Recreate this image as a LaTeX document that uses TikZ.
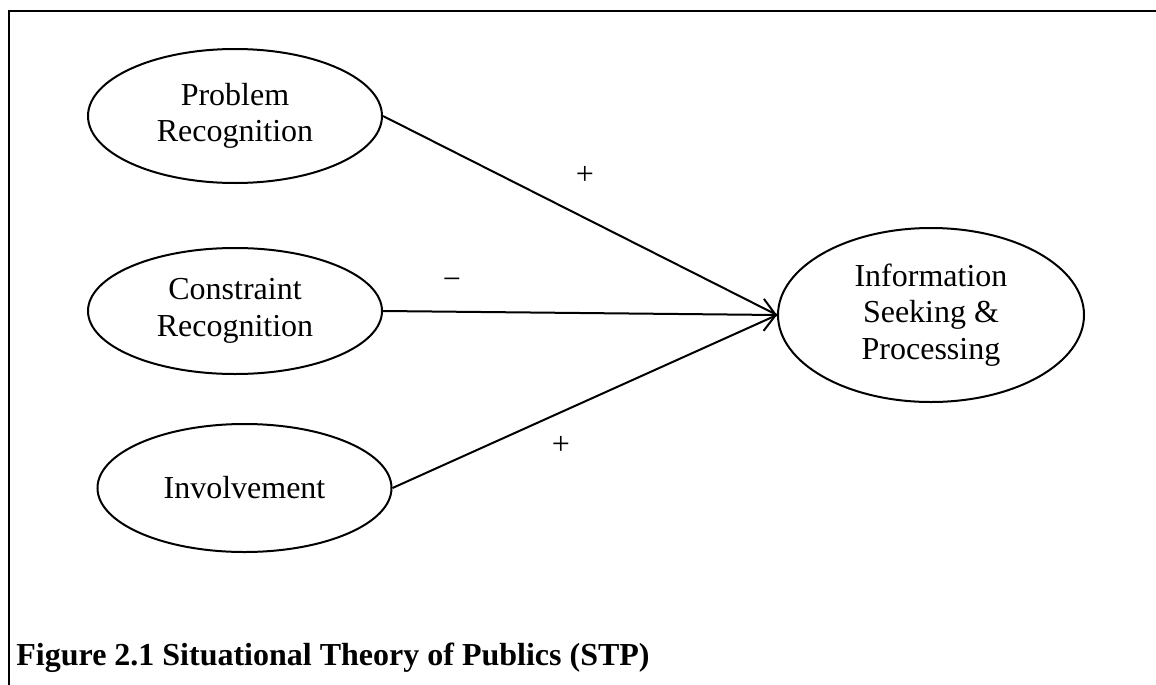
\documentclass[tikz,border=0pt]{standalone}
\usepackage{fontspec}
\setmainfont{Liberation Serif}
\usetikzlibrary{shapes.geometric,arrows.meta}
\begin{document}
\begin{tikzpicture}[x=0.5pt,y=-0.5pt,
  txt/.style={font=\fontsize{16pt}{18.3pt}\selectfont},
  oval/.style={draw,ellipse,line width=1pt,inner sep=0pt,align=center,txt},
  link/.style={line width=1pt},
  sign/.style={txt,inner sep=0pt}]
\useasboundingbox (0,0) rectangle (1156,685);
\draw[line width=1pt] (8.7,685) -- (8.7,10.7) -- (1156,10.7);

\node[oval,minimum width=147pt,minimum height=67pt] (prob) at (235,116) {Problem\\Recognition};
\node[oval,minimum width=147pt,minimum height=63pt] (cons) at (235,311) {Constraint\\Recognition};
\node[oval,minimum width=147pt,minimum height=64pt] (inv) at (244.5,488) {Involvement};
\node[oval,minimum width=153pt,minimum height=87pt] (info) at (931,315) {Information\\Seeking \&\\Processing};

\draw[link] (prob.east) -- (info.west);
\draw[link,-{Straight Barb[length=6pt,width=16pt]}] (cons.east) -- (info.west);
\draw[link] (inv.east) -- (info.west);

\node[sign] (s1) at (585,175) {+};
\node[sign] (s2) at (452,284) {−};
\node[sign] (s3) at (561,445) {+};

\node[anchor=base west,inner sep=0pt,font=\bfseries\fontsize{16pt}{18pt}\selectfont] (cap) at (16,665) {Figure 2.1 Situational Theory of Publics (STP)};
\end{tikzpicture}
\end{document}
